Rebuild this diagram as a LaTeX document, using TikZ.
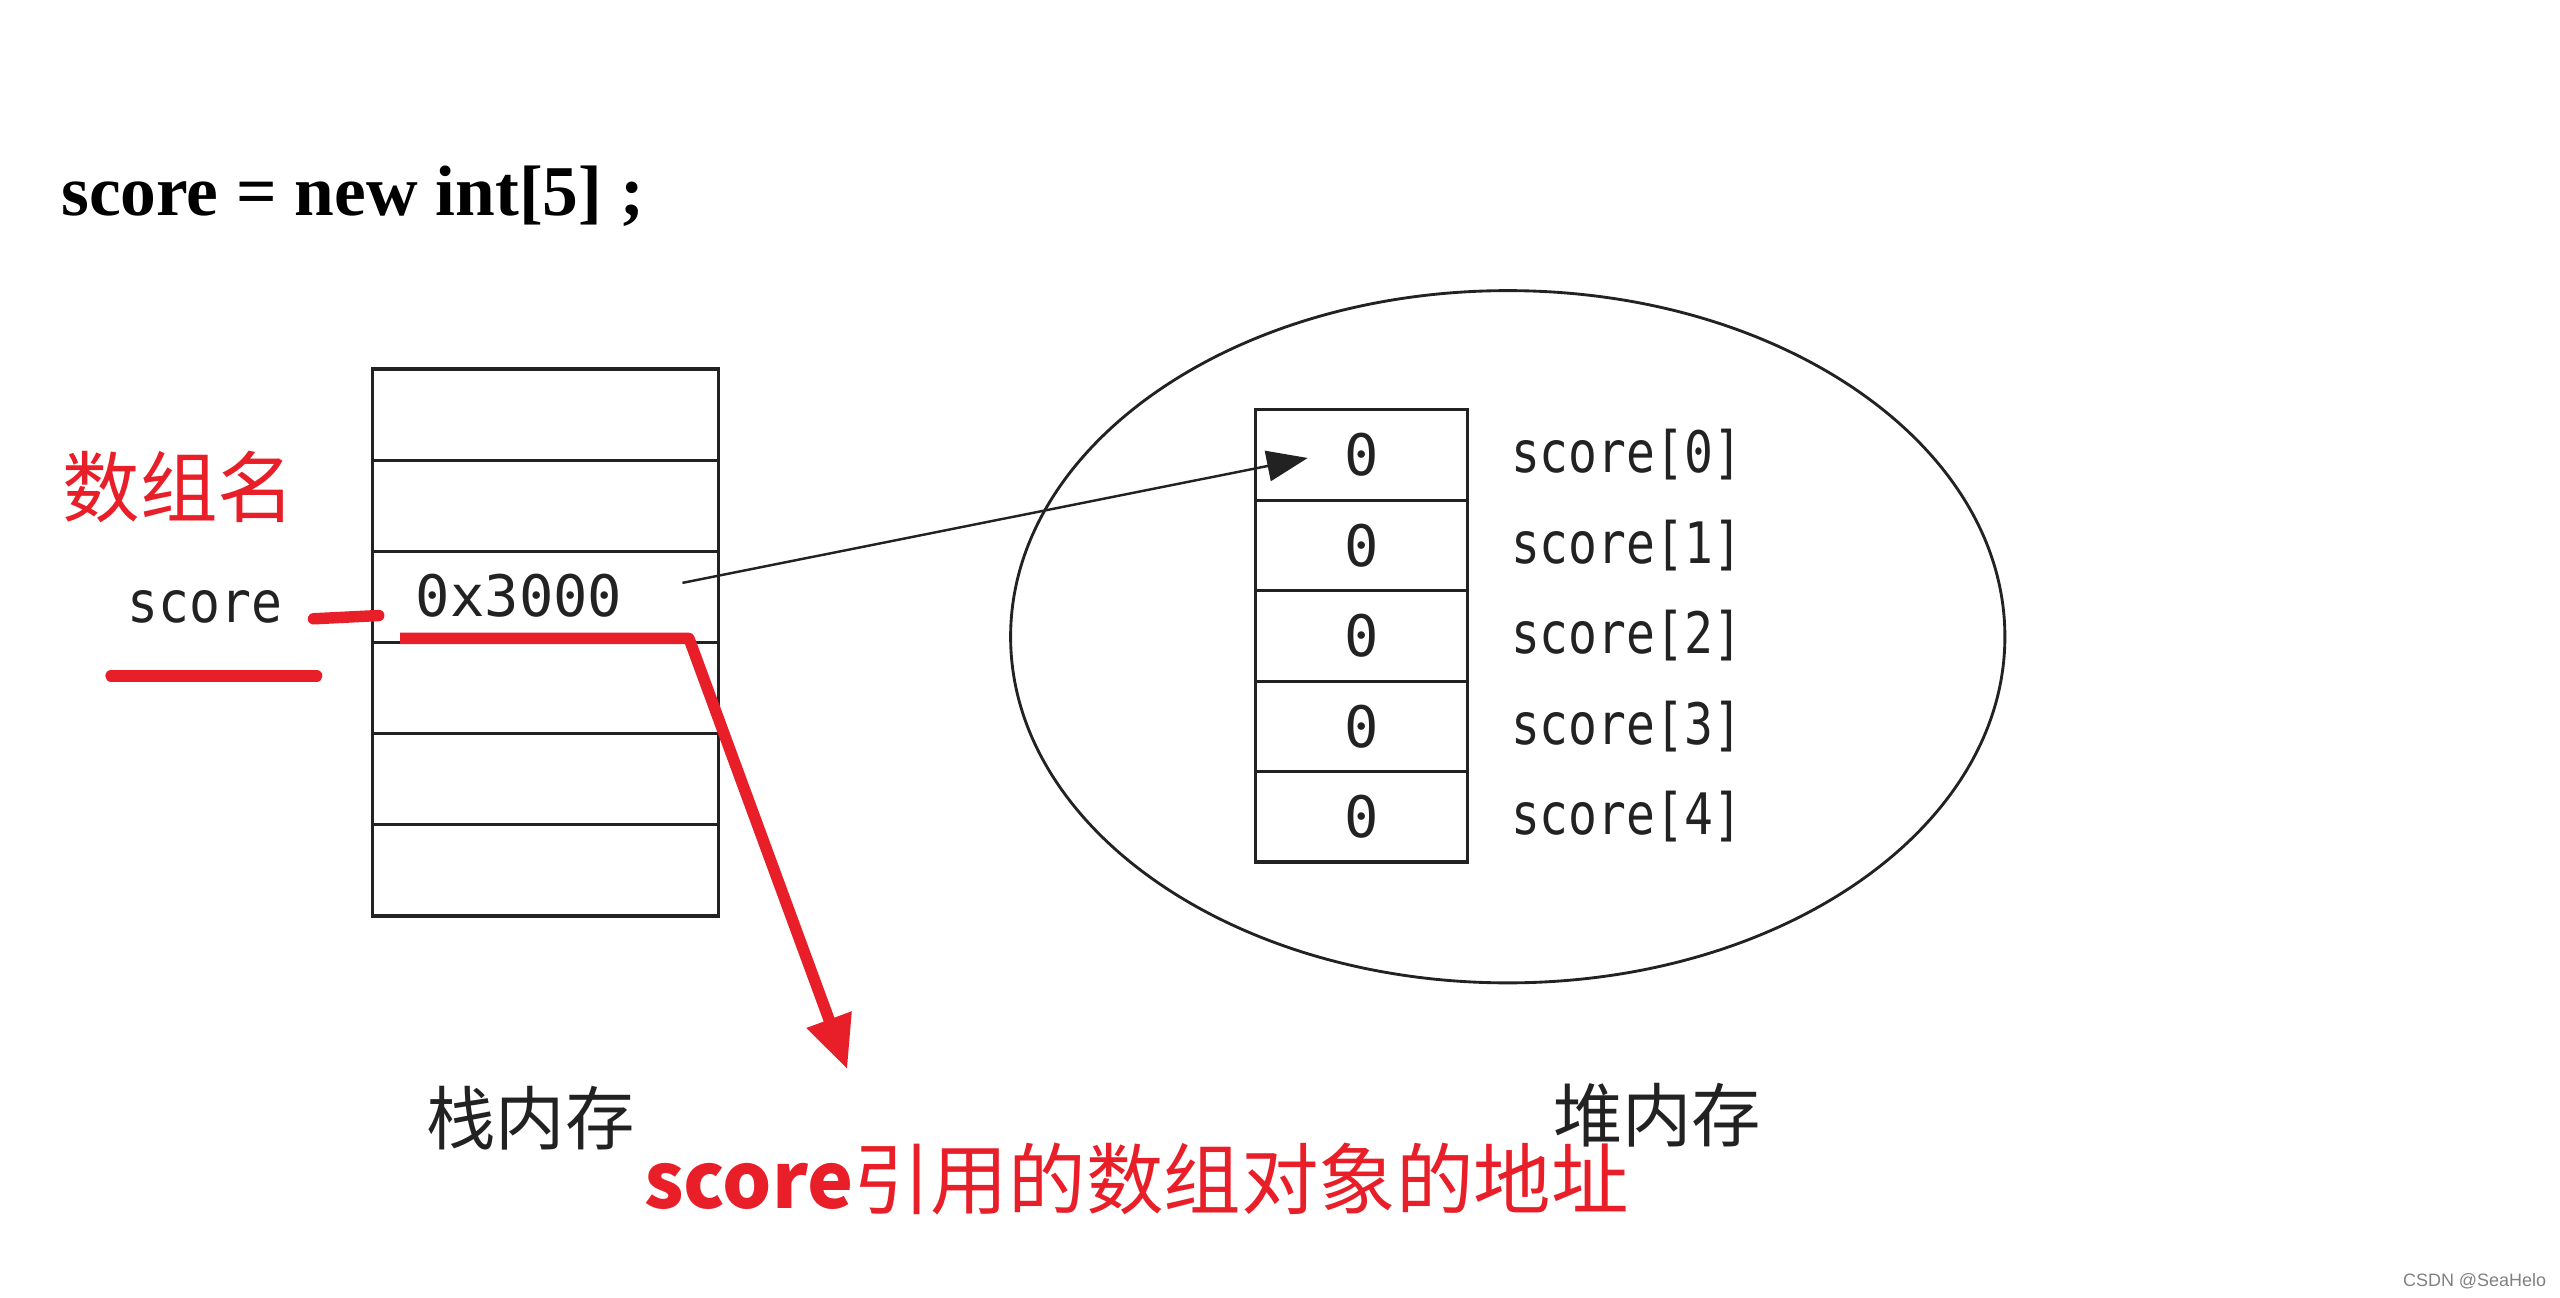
\documentclass[tikz,border=0pt]{standalone}
\usepackage{fontspec}
\setmainfont{Liberation Serif}
\newfontfamily\cjk{Noto Sans CJK SC}
\newfontfamily\monoA{DejaVu Sans Mono}
\newfontfamily\monoB[FakeStretch=0.84]{DejaVu Sans Mono}
\newfontfamily\monoC[FakeStretch=0.9]{DejaVu Sans Mono}
\newfontfamily\arialf{Liberation Sans}
\usetikzlibrary{shapes.geometric,arrows.meta,calc}
\definecolor{myred}{RGB}{232,30,40}
\definecolor{ink}{RGB}{34,34,34}
\begin{document}
\begin{tikzpicture}[x=0.4pt,y=-0.4pt,
  stackcell/.style={draw=ink, line width=0.8pt, minimum width=84.8pt, minimum height=22.33pt, inner sep=0pt},
  heapcell/.style={draw=ink, line width=0.8pt, minimum width=52pt, minimum height=22.16pt, inner sep=0pt, text=ink, font=\monoA\fontsize{14}{14}\selectfont},
  idx/.style={anchor=west, inner sep=0pt, text=ink, font=\monoB\fontsize{14}{14}\selectfont},
  monotext/.style={inner sep=0pt, text=ink, font=\monoA\fontsize{14}{14}\selectfont},
  cjklabel/.style={inner sep=0pt, text=ink, font=\cjk\fontsize{17}{17}\selectfont},
  redline/.style={draw=myred, line width=2.8pt, line cap=round, line join=round},
  ptrarrow/.style={draw=ink, line width=0.6pt, -{Triangle[length=10pt,width=7.5pt]}}
]
\useasboundingbox (0,0) rectangle (1568,795);

% title
\node[anchor=west, inner sep=0pt, font=\bfseries\fontsize{17.5}{17.5}\selectfont] (title) at (37,120) {score = new int[5] ;};

% stack cells
\foreach \i in {0,...,5} {
  \node[stackcell] (s\i) at (334,{226+55.83*(\i+0.5)}) {};
}
\node[monotext] (addr) at (318,365) {0x3000};
\node[monotext, font=\monoC\fontsize{14}{14}\selectfont] (varname) at (125.5,372) {score};

% heap ellipse
\node[draw=ink, line width=0.7pt, ellipse, minimum width=243.6pt, minimum height=169.6pt, inner sep=0pt] (heap) at (923.5,390) {};

% heap cells
\foreach \i in {0,...,4} {
  \node[heapcell] (h\i) at (834,{251+55.4*(\i+0.5)}) {0};
  \node[idx] (l\i) at (925,{251+55.4*(\i+0.5)}) {score[\i]};
}

% labels
\node[cjklabel] (stacklbl) at (325,685) {栈内存};
\node[cjklabel] (heaplbl) at (1015,683) {堆内存};
\node[anchor=west, inner sep=0pt, text=myred, font=\cjk\fontsize{19}{19}\selectfont] (arrname) at (38,298) {数组名};
\node[anchor=west, inner sep=0pt, text=myred, font=\cjk\fontsize{19}{19}\selectfont] (refaddr) at (394,722) {{\bfseries score}引用的数组对象的地址};
\node[anchor=east, inner sep=0pt, text=black!50, font=\arialf\fontsize{4.4}{4.4}\selectfont] (credit) at (1560,785) {CSDN @SeaHelo};

% pointer arrow
\coordinate (pstart) at (418,357);
\coordinate (pend) at (801,280.5);
\draw[ptrarrow] (pstart) -- (pend);

% red marks
\coordinate (d1) at (192,379);
\coordinate (d2) at (232,377);
\draw[redline] (d1) -- (d2);
\coordinate (u1) at (68,414);
\coordinate (u2) at (194,414);
\draw[redline] (u1) -- (u2);
\coordinate (r1) at (245,391);
\coordinate (r2) at (422,391);
\coordinate (r3) at (519,655);
\draw[redline, line cap=butt, -{Triangle[length=13pt,width=11pt]}] (r1) -- (r2) -- (r3);
\end{tikzpicture}
\end{document}
